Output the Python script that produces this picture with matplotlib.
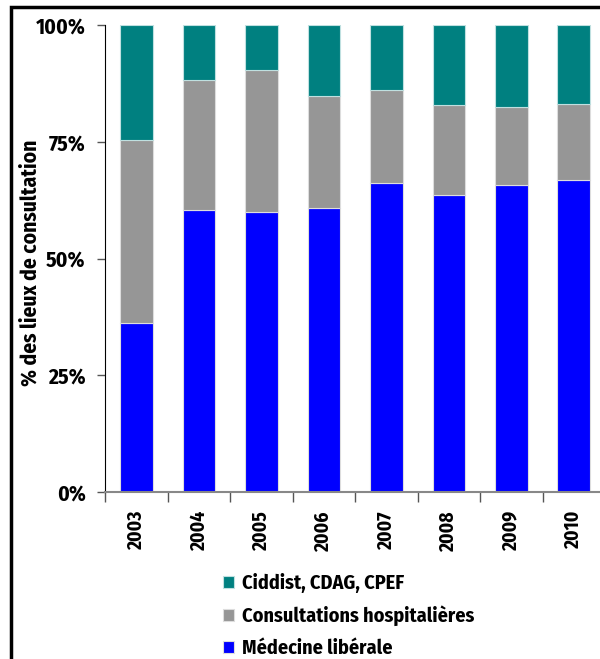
import matplotlib
matplotlib.use("Agg")
import matplotlib.pyplot as plt
from matplotlib.patches import Rectangle

years = ["2003", "2004", "2005", "2006", "2007", "2008", "2009", "2010"]
medecine = [36.3, 60.4, 60.0, 60.9, 66.1, 63.7, 65.8, 66.9]
hospital = [39.1, 27.8, 30.4, 23.9, 20.0, 19.2, 16.7, 16.2]
ciddist = [24.6, 11.8, 9.6, 15.2, 13.9, 17.1, 17.5, 16.9]

plt.rcParams["font.family"] = ["Fira Sans Condensed", "DejaVu Sans"]
plt.rcParams["font.weight"] = "bold"

fig = plt.figure(figsize=(6, 6.59), dpi=100)
ax = fig.add_axes([0.1753, 0.2534, 0.833, 0.7086])

x = range(len(years))
w = 0.52
b1 = ax.bar(x, medecine, w, color="#0000ff", edgecolor="#dddddd", linewidth=0.8)
b2 = ax.bar(x, hospital, w, bottom=medecine, color="#969696", edgecolor="#dddddd", linewidth=0.8)
top2 = [m + h for m, h in zip(medecine, hospital)]
b3 = ax.bar(x, ciddist, w, bottom=top2, color="#008080", edgecolor="#bfe0e0", linewidth=0.8)

ax.set_xlim(-0.5, len(years) - 0.5)
ax.set_ylim(0, 100)
ax.set_yticks([0, 25, 50, 75, 100])
ax.set_yticklabels(["0%", "25%", "50%", "75%", "100%"], fontsize=15.5, fontweight="bold")
ax.set_xticks(list(x))
ax.set_xticklabels(years, rotation=90, fontsize=14, fontweight="bold")
ax.set_xticks([i - 0.5 for i in range(len(years) + 1)], minor=True)
ax.tick_params(axis="x", which="major", length=0, pad=13)
ax.tick_params(axis="x", which="minor", length=7, width=1, color="#555555")
ax.tick_params(axis="y", length=6, width=1, color="#555555", pad=8)

ax.spines["top"].set_visible(False)
ax.spines["right"].set_visible(False)
ax.spines["left"].set_color("black")
ax.spines["bottom"].set_color("#888888")
ax.spines["bottom"].set_linewidth(1.5)

ax.set_ylabel("% des lieux de consultation", fontsize=15.5, fontweight="bold", va="center")
ax.yaxis.set_label_coords(-0.149, 0.49)

fig.legend([b3, b2, b1], ["Ciddist, CDAG, CPEF", "Consultations hospitalières", "Médecine libérale"],
           loc="upper left", bbox_to_anchor=(0.358, 0.143), frameon=False,
           fontsize=14.5, handlelength=0.55, handleheight=0.55, handletextpad=0.4,
           labelspacing=0.62, borderaxespad=0)

fig.patches.append(Rectangle((0.018, -0.1), 2, 1.089, transform=fig.transFigure,
                             fill=False, edgecolor="black", linewidth=2.5, zorder=10))

fig.savefig("out.png", dpi=100)
